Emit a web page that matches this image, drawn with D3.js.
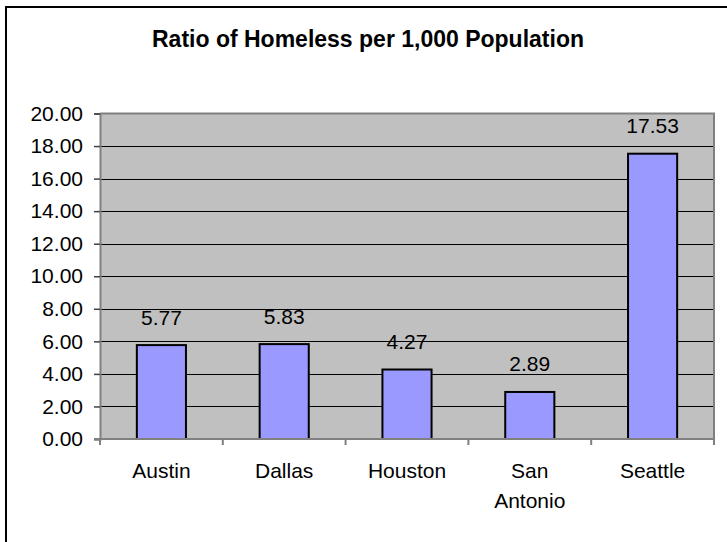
<!DOCTYPE html>
<html>
<head>
<meta charset="utf-8">
<script src="https://cdn.jsdelivr.net/npm/d3@7"></script>
<style>
	body { margin: 0; background: #fff; }
	text { font-family: "Liberation Sans", Arial, sans-serif; fill: #000; }
</style>
</head>
<body>
<div id="chart"></div>
<script>
var cities = ["Austin", "Dallas", "Houston", "San Antonio", "Seattle"];
var cityLines = [["Austin"], ["Dallas"], ["Houston"], ["San", "Antonio"], ["Seattle"]];
var ratios = [5.77, 5.83, 4.27, 2.89, 17.53];
var yTicks = [0, 2, 4, 6, 8, 10, 12, 14, 16, 18, 20];
var title = "Ratio of Homeless per 1,000 Population";

var width = 727, height = 542;
var plot = {left: 100, top: 113.5, right: 714, bottom: 439};

var svg = d3.select("#chart").append("svg")
	.attr("width", width)
	.attr("height", height);

// outer chart border (only top and left visible, picture is cropped)
svg.append("path")
	.attr("d", "M6,542 L6,7 L727,7")
	.attr("fill", "none")
	.attr("stroke", "#000")
	.attr("stroke-width", 2);

svg.append("text")
	.attr("x", 368)
	.attr("y", 47)
	.attr("text-anchor", "middle")
	.style("font-size", "23px")
	.style("font-weight", "bold")
	.text(title);

var x = d3.scaleBand()
	.domain(cities)
	.range([plot.left, plot.right])
	.paddingInner(0.6)
	.paddingOuter(0.3);

var y = d3.scaleLinear()
	.domain([0, 20])
	.range([plot.bottom, plot.top]);

// plot background
svg.append("rect")
	.attr("x", plot.left)
	.attr("y", plot.top)
	.attr("width", plot.right - plot.left)
	.attr("height", plot.bottom - plot.top)
	.attr("fill", "#c0c0c0");

// gridlines
svg.selectAll(".grid")
	.data(yTicks.filter(function(d){ return d > 0 && d < 20; }))
	.enter().append("line")
	.attr("x1", plot.left)
	.attr("x2", plot.right)
	.attr("y1", function(d){ return Math.round(y(d)) + 0.5; })
	.attr("y2", function(d){ return Math.round(y(d)) + 0.5; })
	.attr("stroke", "#000")
	.attr("stroke-width", 1);

// plot border top/right
svg.append("path")
	.attr("d", "M" + plot.left + "," + plot.top + " L" + plot.right + "," + plot.top + " L" + plot.right + "," + plot.bottom)
	.attr("fill", "none")
	.attr("stroke", "#808080")
	.attr("stroke-width", 2);

// bars
svg.selectAll(".bar")
	.data(ratios)
	.enter().append("rect")
	.attr("class", "bar")
	.attr("x", function(d, i){ return x(cities[i]); })
	.attr("y", function(d){ return y(d); })
	.attr("width", x.bandwidth())
	.attr("height", function(d){ return y(0) - y(d); })
	.attr("fill", "#9999ff")
	.attr("stroke", "#000")
	.attr("stroke-width", 2);

// value labels
svg.selectAll(".val")
	.data(ratios)
	.enter().append("text")
	.attr("x", function(d, i){ return x(cities[i]) + x.bandwidth() / 2; })
	.attr("y", function(d){ return y(d) - 20.5; })
	.attr("text-anchor", "middle")
	.style("font-size", "21px")
	.text(function(d){ return d.toFixed(2); });

// y axis
var yAxis = d3.axisLeft(y)
	.tickValues(yTicks)
	.tickSize(6)
	.tickPadding(11)
	.tickFormat(function(d){ return d.toFixed(2); });

var gy = svg.append("g")
	.attr("transform", "translate(" + plot.left + ",0)")
	.call(yAxis);
gy.select(".domain").attr("stroke", "#808080").attr("stroke-width", 2);
gy.selectAll(".tick line").attr("stroke", "#404040").attr("stroke-width", 1.5);
gy.selectAll(".tick text")
	.style("font-size", "21px")
	.style("font-family", "'Liberation Sans', Arial, sans-serif")
	.attr("fill", "#000");

// x axis line and boundary ticks
svg.append("line")
	.attr("x1", plot.left - 6)
	.attr("x2", plot.right + 1)
	.attr("y1", plot.bottom)
	.attr("y2", plot.bottom)
	.attr("stroke", "#808080")
	.attr("stroke-width", 2);

var bounds = d3.range(cities.length + 1).map(function(i){ return plot.left + i * x.step(); });
svg.selectAll(".xtick")
	.data(bounds)
	.enter().append("line")
	.attr("x1", function(d){ return d; })
	.attr("x2", function(d){ return d; })
	.attr("y1", plot.bottom)
	.attr("y2", plot.bottom + 6)
	.attr("stroke", "#808080")
	.attr("stroke-width", 2);

// category labels
var cat = svg.selectAll(".cat")
	.data(cityLines)
	.enter().append("text")
	.attr("text-anchor", "middle")
	.style("font-size", "21px");
cat.each(function(lines, i){
	var t = d3.select(this);
	lines.forEach(function(s, j){
		t.append("tspan")
			.attr("x", x(cities[i]) + x.bandwidth() / 2)
			.attr("y", 478 + j * 30)
			.text(s);
	});
});
</script>
</body>
</html>
